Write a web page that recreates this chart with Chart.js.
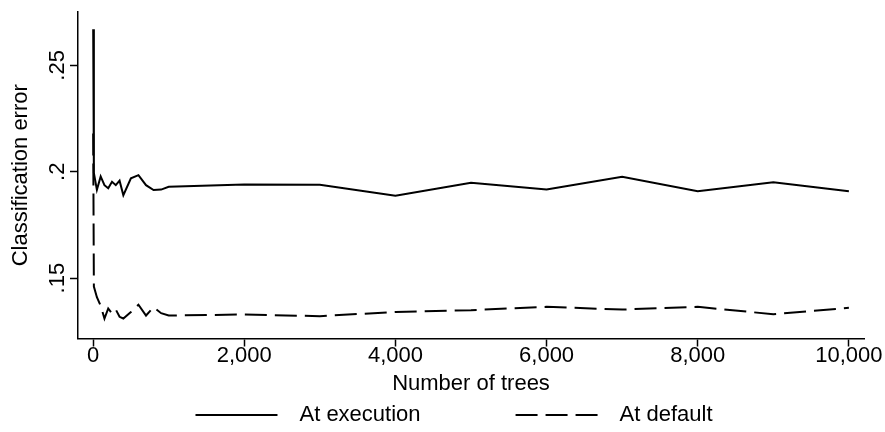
<!DOCTYPE html>
<html>
<head>
<meta charset="utf-8">
<title>Classification error by number of trees</title>
<script src="https://cdn.jsdelivr.net/npm/chart.js@4.4.1/dist/chart.umd.min.js"></script>
<style>
  html, body { margin: 0; padding: 0; background: #ffffff; }
  canvas { display: block; }
</style>
</head>
<body>
<canvas id="chart" width="885" height="432"></canvas>
<script>
// Number of trees grown in the forest
const trees = [1, 10, 50, 100, 150, 200, 250, 300, 350, 400, 500, 600, 700, 800, 900, 1000,
  2000, 3000, 4000, 5000, 6000, 7000, 8000, 9000, 10000];

// Classification error with the parameters chosen at execution
const errorAtExecution = [0.267, 0.1994, 0.1915, 0.1978, 0.1937, 0.1922, 0.1953, 0.1937, 0.1958, 0.1890,
  0.1969, 0.1984, 0.1937, 0.1914, 0.1916, 0.1929,
  0.1940, 0.1939, 0.1887, 0.1948, 0.1917, 0.1976, 0.1908, 0.1950, 0.1908];

// Classification error with the default parameters
const errorAtDefault = [0.218, 0.146, 0.141, 0.137, 0.131, 0.1357, 0.1334, 0.1352, 0.1318, 0.1310,
  0.1340, 0.1375, 0.1324, 0.1363, 0.1335, 0.1324,
  0.1329, 0.1321, 0.1341, 0.1349, 0.1365, 0.1352, 0.1365, 0.1330, 0.1360];

const seriesNames = ['At execution', 'At default'];

const xTickValues = [0, 2000, 4000, 6000, 8000, 10000];
const xTickLabels = ['0', '2,000', '4,000', '6,000', '8,000', '10,000'];
const yTickValues = [0.15, 0.2, 0.25];
const yTickLabels = ['.15', '.2', '.25'];

const FONT = '"Liberation Sans", Arial, Helvetica, sans-serif';
const INK = '#000000';

Chart.defaults.font.family = FONT;
Chart.defaults.font.size = 22;
Chart.defaults.color = INK;

const toPoints = (xs, ys) => xs.map((x, i) => ({ x: x, y: ys[i] }));

// Legend row under the axis title: line sample, then the series name
const bottomLegend = {
  id: 'bottomLegend',
  afterDraw(chart, args, opts) {
    const ctx = chart.ctx;
    const sets = chart.data.datasets;
    ctx.save();
    ctx.font = opts.fontSize + 'px ' + FONT;
    const widths = sets.map(ds => ctx.measureText(ds.label).width);
    let total = opts.spacing * (sets.length - 1);
    widths.forEach(w => { total += opts.sample + opts.gap + w; });
    let x = opts.centerX - total / 2;
    const y = opts.y;
    sets.forEach((ds, i) => {
      ctx.beginPath();
      ctx.setLineDash(ds.borderDash || []);
      ctx.lineWidth = ds.borderWidth;
      ctx.strokeStyle = ds.borderColor;
      ctx.moveTo(x, y);
      ctx.lineTo(x + opts.sample, y);
      ctx.stroke();
      ctx.setLineDash([]);
      x += opts.sample + opts.gap;
      ctx.fillStyle = INK;
      ctx.textAlign = 'left';
      ctx.textBaseline = 'middle';
      ctx.fillText(ds.label, x, y);
      x += widths[i] + opts.spacing;
    });
    ctx.restore();
  }
};

new Chart(document.getElementById('chart'), {
  type: 'line',
  data: {
    datasets: [
      {
        label: seriesNames[0],
        data: toPoints(trees, errorAtExecution),
        borderColor: INK,
        borderWidth: 2,
        pointRadius: 0,
        tension: 0,
        fill: false
      },
      {
        label: seriesNames[1],
        data: toPoints(trees, errorAtDefault),
        borderColor: INK,
        borderWidth: 2,
        borderDash: [22, 8],
        pointRadius: 0,
        tension: 0,
        fill: false
      }
    ]
  },
  options: {
    responsive: false,
    animation: false,
    events: [],
    layout: { padding: { left: 0, right: 21, top: 12, bottom: 30.5 } },
    plugins: {
      legend: { display: false },
      tooltip: { enabled: false },
      bottomLegend: { centerX: 454, y: 415, sample: 82, gap: 22, spacing: 95, fontSize: 22 }
    },
    scales: {
      x: {
        type: 'linear',
        min: -200,
        max: 10200,
        afterBuildTicks: s => { s.ticks = xTickValues.map(v => ({ value: v })); },
        afterFit: s => { s.height = 63; },
        ticks: {
          autoSkip: false,
          maxRotation: 0,
          padding: -4.2,
          font: { size: 22 },
          callback: (v, i) => xTickLabels[i]
        },
        grid: { drawOnChartArea: false, drawTicks: true, tickLength: 8, tickWidth: 1.5, tickColor: INK, color: INK },
        border: { display: true, color: INK, width: 1.5 },
        title: { display: true, text: 'Number of trees', font: { size: 22 }, padding: { top: 0, bottom: 4.8 } }
      },
      y: {
        type: 'linear',
        min: 0.1216,
        max: 0.2751,
        afterBuildTicks: s => { s.ticks = yTickValues.map(v => ({ value: v })); },
        afterFit: s => { s.width = 78; },
        ticks: {
          autoSkip: false,
          minRotation: 90,
          maxRotation: 90,
          crossAlign: 'center',
          padding: -3.3,
          font: { size: 22 },
          callback: (v, i) => yTickLabels[i]
        },
        grid: { drawOnChartArea: false, drawTicks: true, tickLength: 8, tickWidth: 1.5, tickColor: INK, color: INK },
        border: { display: true, color: INK, width: 1.5 },
        title: { display: true, text: 'Classification error', font: { size: 22 }, padding: { top: 7.8, bottom: 0 } }
      }
    }
  },
  plugins: [bottomLegend]
});
</script>
</body>
</html>
